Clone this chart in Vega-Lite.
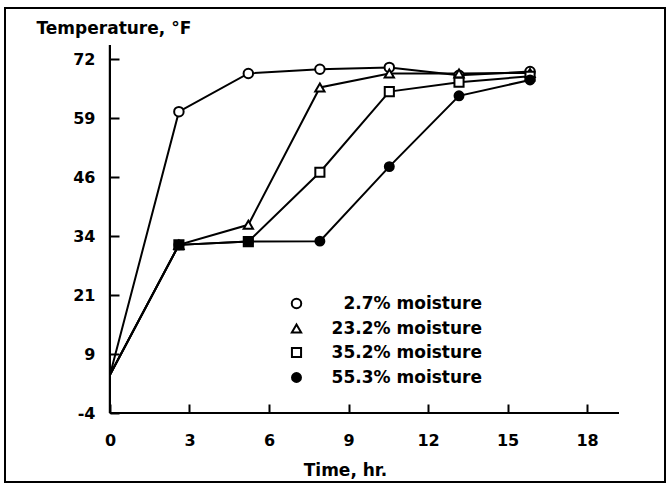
{
  "$schema": "https://vega.github.io/schema/vega-lite/v6.json",
  "width": 660,
  "height": 474,
  "autosize": {"type": "none"},
  "padding": {"left": 5, "top": 8, "right": 4, "bottom": 5},
  "background": "white",
  "config": {
    "view": {"stroke": "black", "strokeWidth": 2},
    "font": "DejaVu Sans",
    "axis": {
      "grid": false,
      "domain": false,
      "labelFont": "DejaVu Sans",
      "labelFontWeight": "bold",
      "labelFontSize": 16,
      "labelColor": "black",
      "tickColor": "black",
      "tickWidth": 2,
      "tickSize": -9,
      "titleFont": "DejaVu Sans",
      "titleFontWeight": "bold",
      "titleFontSize": 17,
      "titleColor": "black"
    },
    "legend": {
      "orient": "none",
      "legendX": 283,
      "legendY": 287,
      "padding": 0,
      "labelFont": "DejaVu Sans",
      "labelFontWeight": "bold",
      "labelFontSize": 17,
      "labelColor": "black",
      "labelAlign": "right",
      "rowPadding": 6,
      "labelOffset": 177,
      "labelLimit": 300,
      "symbolStrokeWidth": 2,
      "symbolStrokeColor": "black"
    }
  },
  "data": {
    "values": [
      {"t": 0, "temp": 4.2, "series": "2.7% moisture"},
      {"t": 2.6, "temp": 60.7, "series": "2.7% moisture"},
      {"t": 5.22, "temp": 68.9, "series": "2.7% moisture"},
      {"t": 7.92, "temp": 69.8, "series": "2.7% moisture"},
      {"t": 10.54, "temp": 70.2, "series": "2.7% moisture"},
      {"t": 13.17, "temp": 68.5, "series": "2.7% moisture"},
      {"t": 15.85, "temp": 69.3, "series": "2.7% moisture"},
      {"t": 0, "temp": 4.2, "series": "23.2% moisture"},
      {"t": 2.6, "temp": 32.1, "series": "23.2% moisture"},
      {"t": 5.22, "temp": 36.4, "series": "23.2% moisture"},
      {"t": 7.92, "temp": 65.9, "series": "23.2% moisture"},
      {"t": 10.54, "temp": 68.9, "series": "23.2% moisture"},
      {"t": 13.17, "temp": 68.9, "series": "23.2% moisture"},
      {"t": 15.85, "temp": 69.0, "series": "23.2% moisture"},
      {"t": 0, "temp": 4.2, "series": "35.2% moisture"},
      {"t": 2.6, "temp": 32.1, "series": "35.2% moisture"},
      {"t": 5.22, "temp": 32.8, "series": "35.2% moisture"},
      {"t": 7.92, "temp": 47.7, "series": "35.2% moisture"},
      {"t": 10.54, "temp": 65.0, "series": "35.2% moisture"},
      {"t": 13.17, "temp": 67.0, "series": "35.2% moisture"},
      {"t": 15.85, "temp": 68.3, "series": "35.2% moisture"},
      {"t": 0, "temp": 4.2, "series": "55.3% moisture"},
      {"t": 2.6, "temp": 32.1, "series": "55.3% moisture"},
      {"t": 5.22, "temp": 32.8, "series": "55.3% moisture"},
      {"t": 7.92, "temp": 32.9, "series": "55.3% moisture"},
      {"t": 10.54, "temp": 48.9, "series": "55.3% moisture"},
      {"t": 13.17, "temp": 64.1, "series": "55.3% moisture"},
      {"t": 15.85, "temp": 67.5, "series": "55.3% moisture"}
    ]
  },
  "layer": [
    {
      "mark": {"type": "line", "color": "black", "strokeWidth": 2},
      "encoding": {
        "x": {
          "field": "t",
          "type": "quantitative",
          "scale": {"domain": [-3.962, 20.943], "nice": false, "zero": false},
          "axis": {
            "title": "Time, hr.",
            "values": [0, 3, 6, 9, 12, 15, 18],
            "offset": -69,
            "labelPadding": 28,
            "titleAnchor": null,
            "titleX": 340,
            "titleY": 62,
            "titleAlign": "center",
            "titleBaseline": "alphabetic"
          }
        },
        "y": {
          "field": "temp",
          "type": "quantitative",
          "scale": {"domain": [-18.81, 82.95], "nice": false, "zero": false},
          "axis": {
            "title": "Temperature, °F",
            "values": [-4, 8.6667, 21.3333, 34, 46.6667, 59.3333, 72],
            "labelExpr": "datum.value < 0 ? '-4' : datum.value < 10 ? '9' : datum.value < 22 ? '21' : datum.value < 35 ? '34' : datum.value < 47 ? '46' : datum.value < 60 ? '59' : '72'",
            "offset": -105,
            "labelPadding": 24,
            "titleAngle": 0,
            "titleX": -74,
            "titleY": 25,
            "titleAlign": "left",
            "titleBaseline": "alphabetic"
          }
        },
        "detail": {"field": "series", "type": "nominal"}
      }
    },
    {
      "transform": [{"filter": "datum.t > 0"}],
      "mark": {"type": "point", "strokeWidth": 2, "opacity": 1},
      "encoding": {
        "x": {"field": "t", "type": "quantitative"},
        "y": {"field": "temp", "type": "quantitative"},
        "shape": {
          "field": "series",
          "type": "nominal",
          "scale": {
            "domain": ["2.7% moisture", "23.2% moisture", "35.2% moisture", "55.3% moisture"],
            "range": ["circle", "triangle-up", "square", "circle"]
          },
          "legend": {"title": null}
        },
        "fill": {
          "field": "series",
          "type": "nominal",
          "scale": {
            "domain": ["2.7% moisture", "23.2% moisture", "35.2% moisture", "55.3% moisture"],
            "range": ["white", "white", "white", "black"]
          },
          "legend": {"title": null}
        },
        "stroke": {
          "field": "series",
          "type": "nominal",
          "scale": {
            "domain": ["2.7% moisture", "23.2% moisture", "35.2% moisture", "55.3% moisture"],
            "range": ["black", "black", "black", "black"]
          },
          "legend": {"title": null}
        },
        "size": {
          "field": "series",
          "type": "nominal",
          "scale": {
            "domain": ["2.7% moisture", "23.2% moisture", "35.2% moisture", "55.3% moisture"],
            "range": [90, 80, 80, 50]
          },
          "legend": {"title": null}
        }
      }
    },
    {
      "mark": {"type": "rule", "color": "black", "strokeWidth": 2},
      "encoding": {
        "x": {"datum": 0, "type": "quantitative"},
        "x2": {"datum": 19.2},
        "y": {"datum": -4, "type": "quantitative"}
      }
    },
    {
      "mark": {"type": "rule", "color": "black", "strokeWidth": 2},
      "encoding": {
        "x": {"datum": 0, "type": "quantitative"},
        "y": {"datum": -4, "type": "quantitative"},
        "y2": {"datum": 75}
      }
    }
  ]
}
